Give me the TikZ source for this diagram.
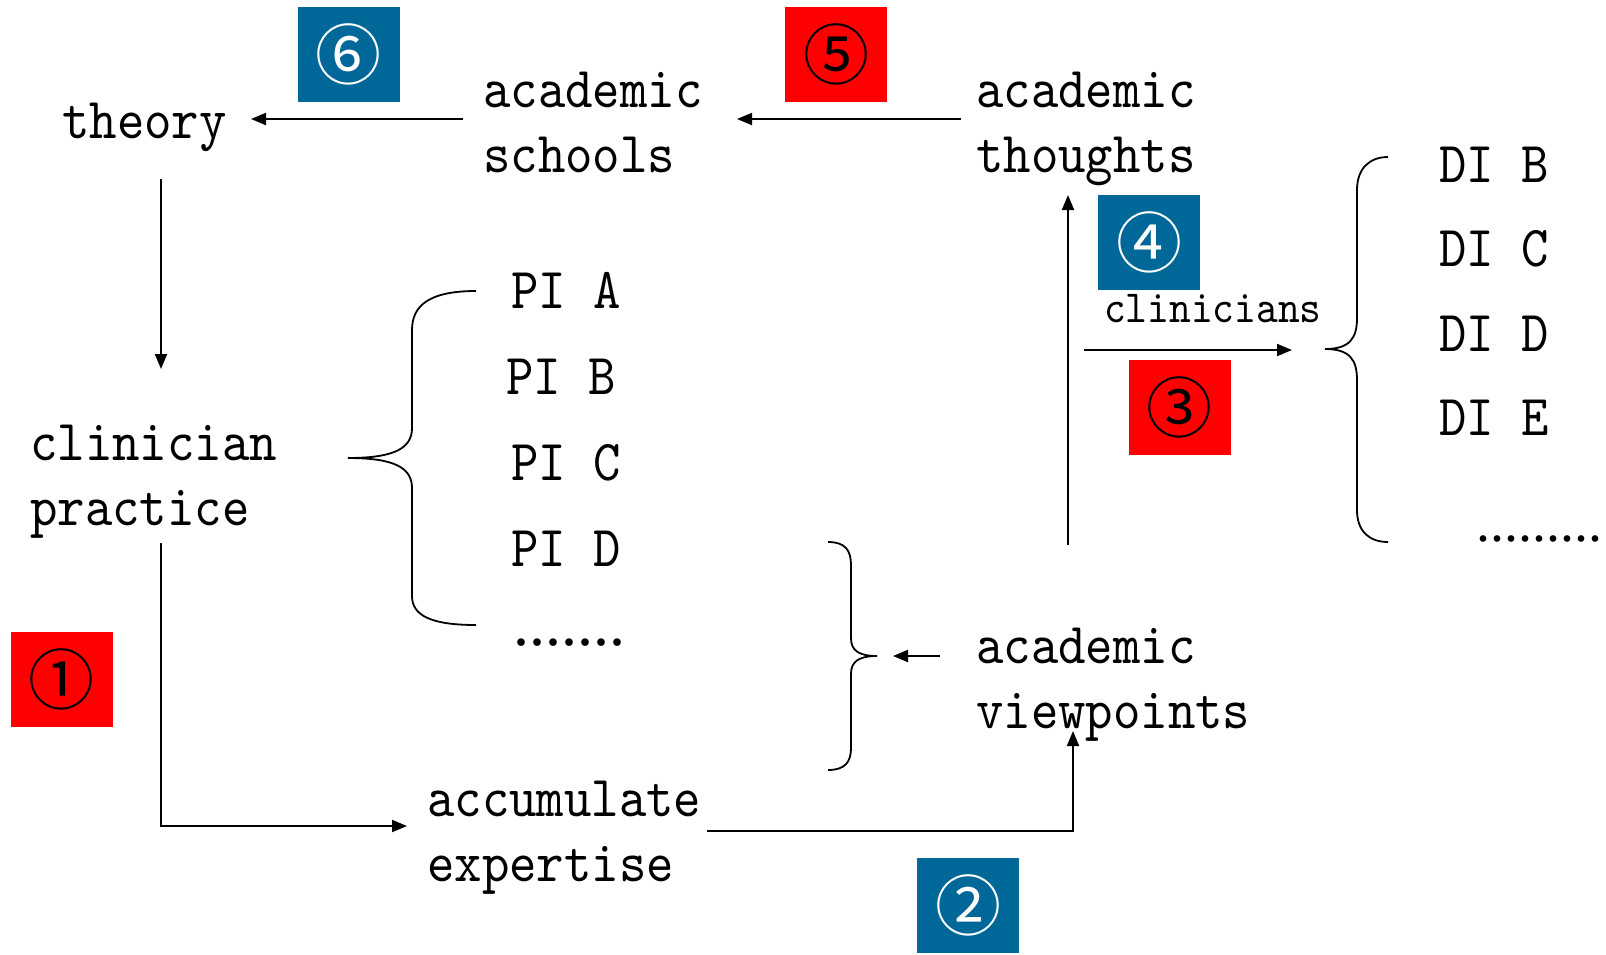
\documentclass[tikz,border=0pt]{standalone}
\usepackage{fontspec}
\usetikzlibrary{arrows.meta}
\newfontfamily\mainf{lmmono10-regular.otf}[FakeStretch=0.9]
\newfontfamily\circf{Noto Sans CJK SC}
\newfontfamily\dotf{Liberation Serif}
\definecolor{boxred}{RGB}{255,0,0}
\definecolor{boxblue}{RGB}{0,103,153}
\tikzset{
  lbl/.style={font=\mainf\fontsize{58}{65}\selectfont, inner sep=0pt, anchor=base west, align=left},
  small/.style={font=\mainf\fontsize{46}{52}\selectfont, inner sep=0pt, anchor=base west},
  dots/.style={font=\dotf\fontsize{64}{70}\selectfont, inner sep=0pt, anchor=base west},
  dotsb/.style={font=\dotf\fontsize{56}{60}\selectfont, inner sep=0pt, anchor=base west},
  numbox/.style={minimum width=102pt, minimum height=95pt, inner sep=0pt, font=\circf\fontsize{66}{66}\selectfont},
  redbox/.style={numbox, fill=boxred, text=black},
  bluebox/.style={numbox, fill=boxblue, text=white},
  arr/.style={line width=2pt, -{Triangle[length=15pt,width=12pt]}},
  brace/.style={line width=1.8pt}
}
\begin{document}
\begin{tikzpicture}[x=1pt,y=-1pt]
\useasboundingbox (0,0) rectangle (1606,954);
% text nodes (base = baseline of last line)
\node[lbl] (theory) at (62,138) {theory};
\node[lbl] (schools) at (483,172) {academic\\schools};
\node[lbl] (thoughts) at (976,172) {academic\\thoughts};
\node[lbl] (practice) at (30,525) {clinician\\practice};
\node[lbl] (viewpoints) at (976,728) {academic\\viewpoints};
\node[lbl] (expertise) at (427,881) {accumulate\\expertise};
\node[small] (clinicians) at (1104,322) {clinicians};
\node[lbl] (pia) at (511,308) {PI A};
\node[lbl] (pib) at (506,394) {PI B};
\node[lbl] (pic) at (511,480) {PI C};
\node[lbl] (pid) at (511,566) {PI D};
\node[dots] (pidots) at (513,645) {.......};
\node[lbl] (dib) at (1439,182) {DI B};
\node[lbl] (dic) at (1439,266) {DI C};
\node[lbl] (did) at (1439,351) {DI D};
\node[lbl] (die) at (1439,435) {DI E};
\node[dotsb] (didots) at (1476,541) {.........};
% number boxes
\node[bluebox] (n6) at (348.5,54.5) {⑥};
\node[redbox] (n5) at (836,54.5) {⑤};
\node[bluebox] (n4) at (1149,242) {④};
\node[redbox] (n3) at (1179.5,407.5) {③};
\node[bluebox] (n2) at (968,905.5) {②};
\node[redbox] (n1) at (61.5,679.5) {①};
% connector end points
\coordinate (sch-w) at (463,119);
\coordinate (th-e) at (251,119);
\coordinate (tho-w) at (961,119);
\coordinate (sch-e) at (737,119);
\coordinate (th-s) at (161,179);
\coordinate (pr-n) at (161,369);
\coordinate (pr-s) at (161,543);
\coordinate (ex-w) at (407,826);
\coordinate (ex-e) at (707,831);
\coordinate (vp-s) at (1073,731);
\coordinate (up-b) at (1068,545);
\coordinate (tho-s) at (1068,195);
\coordinate (cl-a) at (1084,350);
\coordinate (cl-b) at (1292,350);
\coordinate (vp-w) at (940,656);
\coordinate (br3-tip) at (893,656);
% connectors
\draw[arr] (sch-w) -- (th-e);
\draw[arr] (tho-w) -- (sch-e);
\draw[arr] (th-s) -- (pr-n);
\draw[arr] (pr-s) |- (ex-w);
\draw[arr] (ex-e) -| (vp-s);
\draw[arr] (up-b) -- (tho-s);
\draw[arr] (cl-a) -- (cl-b);
\draw[arr] (vp-w) -- (br3-tip);
% brace for PI
\draw[brace] (476,291) .. controls (430,291) and (412,305) .. (412,330)
  -- (412,428) .. controls (412,448) and (395,458) .. (348,458)
  .. controls (395,458) and (412,468) .. (412,488)
  -- (412,596) .. controls (412,615) and (430,625) .. (476,625);
% brace for DI
\draw[brace] (1388,157) .. controls (1370,157) and (1357,168) .. (1357,190)
  -- (1357,318) .. controls (1357,338) and (1350,349) .. (1325,349)
  .. controls (1350,349) and (1357,360) .. (1357,380)
  -- (1357,510) .. controls (1357,532) and (1370,542) .. (1388,542);
% brace for viewpoints
\draw[brace] (828,542) .. controls (845,542) and (851,550) .. (851,565)
  -- (851,638) .. controls (851,650) and (858,656) .. (877,656)
  .. controls (858,656) and (851,662) .. (851,674)
  -- (851,748) .. controls (851,762) and (845,770) .. (828,770);
\end{tikzpicture}
\end{document}
